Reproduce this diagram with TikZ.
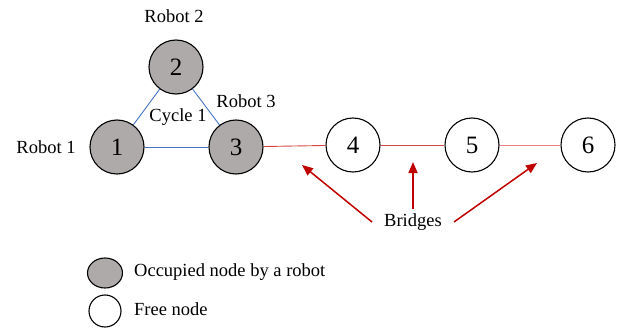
\documentclass[tikz,border=0pt]{standalone}
\usepackage{fontspec}
\setmainfont{Liberation Serif}
\usetikzlibrary{arrows.meta,shapes.geometric}
\definecolor{robotgrey}{RGB}{174,170,170}
\definecolor{cycleblue}{RGB}{68,114,196}
\definecolor{bridgered}{RGB}{214,70,70}
\definecolor{bridgepink}{RGB}{232,130,130}
\definecolor{arrowred}{RGB}{192,0,0}
\tikzset{
	robotnode/.style={circle, draw=black, line width=1.1pt, fill=robotgrey, minimum size=54pt, inner sep=0pt, font=\fontsize{25}{28}\selectfont},
	freenode/.style={circle, draw=black, line width=1.1pt, fill=white, minimum size=54pt, inner sep=0pt, font=\fontsize{25}{28}\selectfont},
	lbl/.style={font=\fontsize{18.5}{21}\selectfont, inner sep=1pt},
	cycleedge/.style={draw=cycleblue, line width=0.9pt},
	bridgeedge/.style={draw=bridgered, line width=0.9pt},
	pointer/.style={draw=arrowred, line width=1.5pt, -{Triangle[length=11pt,width=9pt]}}
}
\begin{document}
\begin{tikzpicture}[x=1pt,y=-1pt]
		%%%%% START %%%%%
		\useasboundingbox (0,0) rectangle (619,329);
		
		% graph nodes
		\node[robotnode] (n1) at (117,147) {1};
		\node[robotnode] (n2) at (176,67) {2};
		\node[robotnode] (n3) at (236,147) {3};
		\node[freenode] (n4) at (353,145) {4};
		\node[freenode] (n5) at (472,145) {5};
		\node[freenode] (n6) at (588,145) {6};
		
		% cycle edges
		\draw[cycleedge] (n1) -- (n2);
		\draw[cycleedge] (n2) -- (n3);
		\draw[cycleedge] (n1) -- (n3);
		
		% bridge edges
		\draw[bridgeedge] (n3) -- (n4);
		\draw[bridgeedge] (n4) -- (n5);
		\draw[draw=bridgepink, line width=0.9pt] (n5) -- (n6);
		
		% labels
		\node[lbl] (r1) at (46,147) {Robot 1};
		\node[lbl] (r2) at (174,16) {Robot 2};
		\node[lbl] (r3) at (246,101) {Robot 3};
		\node[lbl] (c1) at (178,117) {Cycle 1};
		
		% bridges pointers
		\node[lbl, inner xsep=12pt, inner ysep=4pt] (br) at (413,222) {Bridges};
		\coordinate (t34) at (302,165);
		\coordinate (t45) at (413,162);
		\coordinate (t56) at (537,163);
		\draw[pointer] (br.west) -- (t34);
		\draw[pointer] (br.north) -- (t45);
		\draw[pointer] (br.east) -- (t56);
		
		% legend
		\node[ellipse, draw=black, line width=1.1pt, fill=robotgrey, minimum width=35pt, minimum height=30pt, inner sep=0pt] (occ) at (105,273) {};
		\node[circle, draw=black, line width=1.1pt, fill=white, minimum size=32pt, inner sep=0pt] (fre) at (105,311) {};
		\node[lbl, anchor=west, inner xsep=0pt] (occtxt) at (134,272) {Occupied node by a robot};
		\node[lbl, anchor=west, inner xsep=0pt] (fretxt) at (134,309) {Free node};
		
		%%%%% END %%%%%
	\end{tikzpicture}
\end{document}
